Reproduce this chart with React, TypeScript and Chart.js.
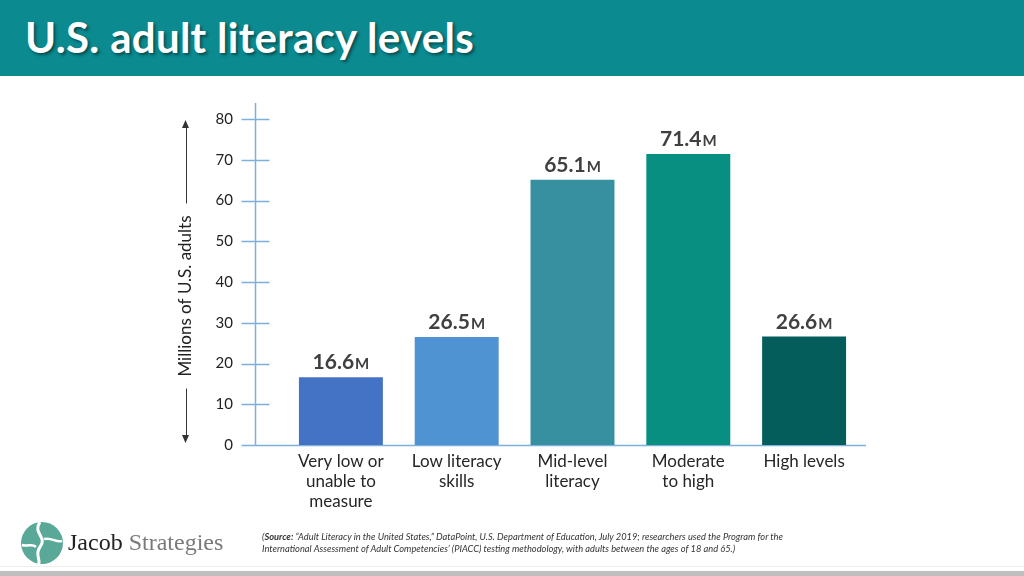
import React, { useEffect, useRef } from "react";
import { Chart, registerables } from "chart.js";

Chart.register(...registerables);

const titleText = "U.S. adult literacy levels";
const axisTitle = "Millions of U.S. adults";
const categories: string[][] = [
  ["Very low or", "unable to", "measure"],
  ["Low literacy", "skills"],
  ["Mid-level", "literacy"],
  ["Moderate", "to high"],
  ["High levels"],
];
const values: number[] = [16.6, 26.5, 65.1, 71.4, 26.6];
const valueSuffix = "M";
const barColors: string[] = ["#4472c4", "#5093d3", "#3690a0", "#088f81", "#045c5b"];
const yTicks: number[] = [0, 10, 20, 30, 40, 50, 60, 70, 80];
const sourceLine1Bold = "Source:";
const sourceLine1 = " \u201CAdult Literacy in the United States,\u201D DataPoint, U.S. Department of Education, July 2019; researchers used the Program for the";
const sourceLine2 = "International Assessment of Adult Competencies\u2019 (PIACC) testing methodology, with adults between the ages of 18 and 65.)";

const FONT = "Lato, 'Open Sans', sans-serif";

const decorPlugin = {
  id: "decor",
  beforeDatasetsDraw(chart: any) {
    const ctx = chart.ctx as CanvasRenderingContext2D;
    const ys = chart.scales.y;
    const area = chart.chartArea;
    const axisX = Math.round(area.left - 28) + 0.5;
    const zeroY = Math.round(ys.getPixelForValue(0)) + 0.5;
    ctx.save();
    ctx.strokeStyle = "#7eb0dc";
    ctx.lineWidth = 1.5;
    ctx.beginPath();
    ctx.moveTo(axisX, area.top - 16);
    ctx.lineTo(axisX, zeroY);
    yTicks.forEach((t) => {
      const py = Math.round(ys.getPixelForValue(t)) + 0.5;
      ctx.moveTo(axisX - 14, py);
      ctx.lineTo(axisX + 14, py);
    });
    ctx.moveTo(axisX - 14, zeroY);
    ctx.lineTo(area.right + 4, zeroY);
    ctx.stroke();

    // axis title with arrows
    const tx = axisX - 70;
    const cy = 296;
    ctx.fillStyle = "#222";
    ctx.font = `17px ${FONT}`;
    const tw = ctx.measureText(axisTitle).width;
    ctx.save();
    ctx.translate(tx, cy);
    ctx.rotate(-Math.PI / 2);
    ctx.textAlign = "center";
    ctx.textBaseline = "middle";
    ctx.fillText(axisTitle, 0, 0);
    ctx.restore();
    const topTip = ys.getPixelForValue(80) + 1;
    const botTip = ys.getPixelForValue(0) - 2;
    ctx.strokeStyle = "#333";
    ctx.lineWidth = 1;
    ctx.beginPath();
    ctx.moveTo(Math.round(tx) + 0.5, cy - tw / 2 - 12);
    ctx.lineTo(Math.round(tx) + 0.5, topTip + 6);
    ctx.moveTo(Math.round(tx) + 0.5, cy + tw / 2 + 12);
    ctx.lineTo(Math.round(tx) + 0.5, botTip - 6);
    ctx.stroke();
    ctx.fillStyle = "#333";
    ctx.beginPath();
    ctx.moveTo(tx, topTip);
    ctx.lineTo(tx - 3.5, topTip + 8);
    ctx.lineTo(tx + 3.5, topTip + 8);
    ctx.closePath();
    ctx.fill();
    ctx.beginPath();
    ctx.moveTo(tx, botTip);
    ctx.lineTo(tx - 3.5, botTip - 8);
    ctx.lineTo(tx + 3.5, botTip - 8);
    ctx.closePath();
    ctx.fill();
    ctx.restore();
  },
  afterDatasetsDraw(chart: any) {
    const ctx = chart.ctx as CanvasRenderingContext2D;
    const meta = chart.getDatasetMeta(0);
    ctx.save();
    ctx.fillStyle = "#404040";
    ctx.textBaseline = "alphabetic";
    ctx.textAlign = "left";
    meta.data.forEach((bar: any, i: number) => {
      const num = values[i].toFixed(1);
      const bigFont = `bold 21px ${FONT}`;
      const smallFont = `bold 15px ${FONT}`;
      ctx.font = bigFont;
      const w1 = ctx.measureText(num).width;
      ctx.font = smallFont;
      const w2 = ctx.measureText(valueSuffix).width;
      const start = bar.x - (w1 + w2 + 1) / 2;
      const base = bar.y - 8;
      ctx.font = bigFont;
      ctx.fillText(num, start, base);
      ctx.font = smallFont;
      ctx.fillText(valueSuffix, start + w1 + 1, base);
    });
    ctx.restore();
  },
};

function ChartCanvas() {
  const ref = useRef<HTMLCanvasElement | null>(null);
  useEffect(() => {
    if (!ref.current) return;
    const chart = new Chart(ref.current, {
      type: "bar",
      data: {
        labels: categories,
        datasets: [
          {
            data: values,
            backgroundColor: barColors,
            borderWidth: 0,
            barPercentage: 0.725,
            categoryPercentage: 1,
          },
        ],
      },
      options: {
        responsive: false,
        animation: false,
        devicePixelRatio: 1,
        layout: { padding: { top: 119, right: 162, left: 0, bottom: 0 } },
        plugins: { legend: { display: false }, tooltip: { enabled: false } },
        scales: {
          x: {
            grid: { display: false, drawTicks: false },
            border: { display: false },
            ticks: {
              color: "#262626",
              font: { family: FONT, size: 17, lineHeight: 1.18 },
              padding: 6,
              maxRotation: 0,
              autoSkip: false,
            },
            afterFit: (s: any) => {
              s.height = 131;
            },
          },
          y: {
            min: 0,
            max: 80,
            grid: { display: false, drawTicks: false },
            border: { display: false },
            ticks: {
              stepSize: 10,
              color: "#222",
              font: { family: FONT, size: 15 },
              padding: 50,
            },
            afterFit: (s: any) => {
              s.width = 283;
            },
          },
        },
      },
      plugins: [decorPlugin],
    });
    return () => chart.destroy();
  }, []);
  return (
    <canvas
      ref={ref}
      width={1024}
      height={576}
      style={{ position: "absolute", left: 0, top: 0, width: 1024, height: 576 }}
    />
  );
}

function Logo() {
  return (
    <svg width={48} height={48} viewBox="0 0 48 48" style={{ position: "absolute", left: 18, top: 519 }}>
      <circle cx={24} cy={24} r={21} fill="#5aa898" />
      <path d="M22 3 C 14 14, 30 18, 22 28 C 16 36, 24 42, 20 46" stroke="#fff" strokeWidth={3} fill="none" />
      <path d="M26 20 C 34 18, 38 24, 44 22" stroke="#fff" strokeWidth={2.5} fill="none" />
      <path d="M4 26 C 10 28, 14 24, 18 28" stroke="#fff" strokeWidth={2.5} fill="none" />
    </svg>
  );
}

export default function App() {
  return (
    <div
      style={{
        position: "fixed",
        left: 0,
        top: 0,
        width: 1024,
        height: 576,
        background: "#fff",
        overflow: "hidden",
      }}
    >
      <div
        style={{
          position: "absolute",
          left: 0,
          top: 0,
          width: 1024,
          height: 76,
          background: "#0b8a8f",
        }}
      />
      <div
        style={{
          position: "absolute",
          left: 25,
          top: 13,
          color: "#fff",
          fontFamily: FONT,
          fontWeight: 700,
          fontSize: 42,
          letterSpacing: 0.3,
          lineHeight: "48px",
          textShadow: "2px 2px 3px rgba(0,0,0,0.45)",
          whiteSpace: "nowrap",
        }}
      >
        {titleText}
      </div>
      <ChartCanvas />
      <Logo />
      <div
        style={{
          position: "absolute",
          left: 68,
          top: 527,
          fontFamily: "'Liberation Serif', serif",
          fontSize: 24,
          lineHeight: "30px",
          whiteSpace: "nowrap",
        }}
      >
        <span style={{ color: "#222" }}>Jacob</span>
        <span style={{ color: "#7a7a7a" }}> Strategies</span>
      </div>
      <div
        style={{
          position: "absolute",
          left: 262,
          top: 531,
          fontFamily: FONT,
          fontStyle: "italic",
          fontSize: 9.3,
          lineHeight: "12px",
          color: "#333",
          whiteSpace: "nowrap",
        }}
      >
        <div>
          (<b>{sourceLine1Bold}</b>
          {sourceLine1}
        </div>
        <div>{sourceLine2}</div>
      </div>
      <div style={{ position: "absolute", left: 0, top: 566, width: 1024, height: 1, background: "#eeeeee" }} />
      <div style={{ position: "absolute", left: 0, top: 571, width: 1024, height: 5, background: "#bfbfbf" }} />
    </div>
  );
}
